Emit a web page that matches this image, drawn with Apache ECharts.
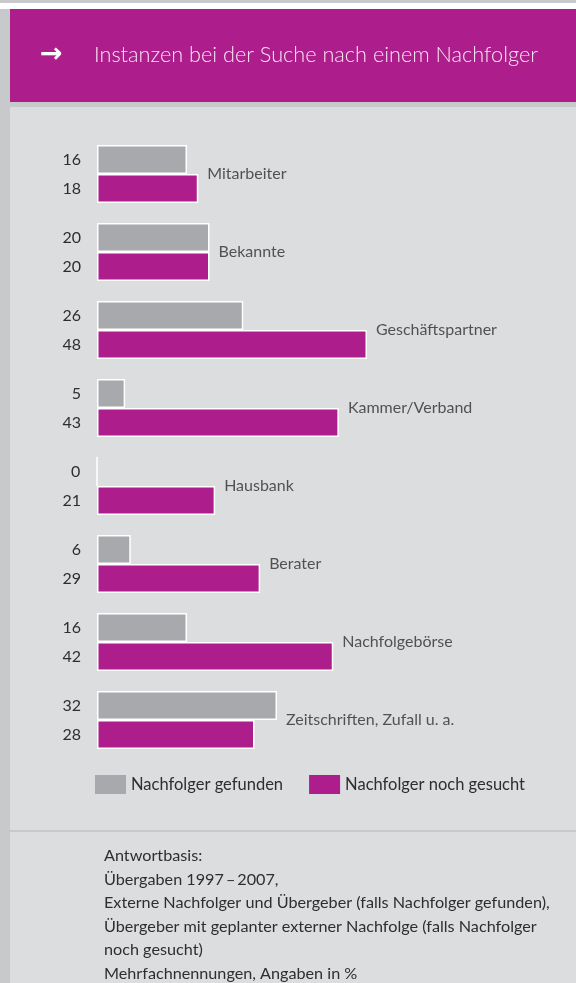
<!DOCTYPE html>
<html>
<head>
<meta charset="utf-8">
<script src="https://cdn.jsdelivr.net/npm/echarts@6/dist/echarts.min.js"></script>
<style>
html, body { margin: 0; padding: 0; background: #fff; }
#main { width: 576px; height: 983px; }
</style>
</head>
<body>
<div id="main"></div>
<script>
// Daten (in %)
var categories = ['Mitarbeiter', 'Bekannte', 'Geschäftspartner', 'Kammer/Verband', 'Hausbank', 'Berater', 'Nachfolgebörse', 'Zeitschriften, Zufall u. a.'];
var gefunden = [16, 20, 26, 5, 0, 6, 16, 32];
var gesucht = [18, 20, 48, 43, 21, 29, 42, 28];
var seriesNames = ['Nachfolger gefunden', 'Nachfolger noch gesucht'];
var titleText = 'Instanzen bei der Suche nach einem Nachfolger';
var footnotes = [
    'Antwortbasis:',
    'Übergaben 1997\u2009\u2013\u20092007,',
    'Externe Nachfolger und Übergeber (falls Nachfolger gefunden),',
    'Übergeber mit geplanter externer Nachfolge (falls Nachfolger',
    'noch gesucht)',
    'Mehrfachnennungen, Angaben in %'
];

var font = 'Lato, sans-serif';
var grey = '#a8a9ac';
var magenta = '#ad1e8c';
var ink = '#2e2e2e';

// Position der Kategoriebeschriftung: rechts neben dem längeren Balken
var labelPoints = categories.map(function (c, i) {
    return [Math.max(gefunden[i], gesucht[i]), c];
});

var graphics = [
    { type: 'rect', shape: { x: 0, y: 0, width: 576, height: 983 }, style: { fill: '#dcdddf' }, silent: true },
    { type: 'rect', shape: { x: 0, y: 0, width: 576, height: 3 }, style: { fill: '#c9cacc' }, silent: true },
    { type: 'rect', shape: { x: 0, y: 3, width: 576, height: 6 }, style: { fill: '#ffffff' }, silent: true },
    { type: 'rect', shape: { x: 0, y: 9, width: 10, height: 974 }, style: { fill: '#c8c9cb' }, silent: true },
    { type: 'rect', shape: { x: 10, y: 9, width: 566, height: 93 }, style: { fill: magenta }, silent: true },
    { type: 'rect', shape: { x: 10, y: 102, width: 566, height: 5 }, style: { fill: '#c8c9cb' }, silent: true },
    { type: 'rect', shape: { x: 10, y: 830, width: 566, height: 2 }, style: { fill: '#c8c9cb' }, silent: true },
    { type: 'text', x: 40, y: 55, style: { text: '\u2192', fill: '#ffffff', font: 'bold 27px "DejaVu Sans"', textVerticalAlign: 'middle' }, silent: true },
    { type: 'text', x: 94, y: 55, style: { text: titleText, fill: '#f7e6f2', font: '300 21.7px ' + font, textVerticalAlign: 'middle' }, silent: true }
];
footnotes.forEach(function (line, i) {
    graphics.push({
        type: 'text', x: 104, y: 856 + i * 23.5,
        style: { text: line, fill: ink, font: '16.2px ' + font, textVerticalAlign: 'middle' },
        silent: true
    });
});

var chartDom = document.getElementById('main');
var myChart = echarts.init(chartDom);

var option = {
    animation: false,
    graphic: { elements: graphics },
    legend: {
        left: 95,
        top: 775,
        padding: 0,
        itemWidth: 31,
        itemHeight: 19,
        itemGap: 26,
        icon: 'rect',
        data: seriesNames,
        itemStyle: { borderWidth: 0 },
        textStyle: { fontFamily: font, fontSize: 16.5, color: ink }
    },
    grid: { left: 97, top: 135, width: 450, height: 624, outerBoundsMode: 'none' },
    xAxis: { type: 'value', min: 0, max: 80, show: false },
    yAxis: { type: 'category', data: categories, inverse: true, show: false },
    series: [
        {
            name: seriesNames[0],
            type: 'bar',
            data: gefunden,
            barWidth: 29,
            barGap: '0%',
            itemStyle: { color: grey, borderColor: '#ffffff', borderWidth: 1.5 },
            label: { show: true, position: 'left', distance: 16, color: ink, fontFamily: font, fontSize: 16 }
        },
        {
            name: seriesNames[1],
            type: 'bar',
            data: gesucht,
            barWidth: 29,
            barGap: '0%',
            itemStyle: { color: magenta, borderColor: '#ffffff', borderWidth: 1.5 },
            label: { show: true, position: 'left', distance: 16, color: ink, fontFamily: font, fontSize: 16 }
        },
        {
            type: 'scatter',
            data: labelPoints,
            symbolSize: 0,
            silent: true,
            label: {
                show: true, position: 'right', distance: 9,
                formatter: function (p) { return p.value[1]; },
                color: ink, fontFamily: font, fontSize: 16
            }
        }
    ]
};
myChart.setOption(option);
</script>
</body>
</html>
